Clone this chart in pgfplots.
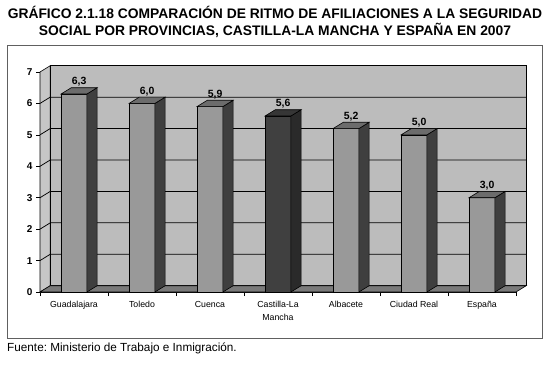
\documentclass[border=0pt]{standalone}
\usepackage{pgfplots}
\pgfplotsset{compat=1.18}
\usepackage{pgfplotstable}
\usepackage{fontspec}
\setmainfont{Liberation Sans}
\frenchspacing
\definecolor{wallc}{HTML}{BCBCBC}
\definecolor{lwallc}{HTML}{C6C6C6}
\definecolor{floorc}{HTML}{7A7A7A}
\definecolor{barF}{HTML}{999999}
\definecolor{barS}{HTML}{3F3F3F}
\definecolor{barT}{HTML}{6C6C6C}
\definecolor{clmF}{HTML}{404040}
\definecolor{clmS}{HTML}{2A2A2A}
\definecolor{clmT}{HTML}{363636}
\definecolor{framec}{HTML}{606060}

\pgfplotstableread{
x v
0 6.3
1 6.0
2 5.9
3 5.6
4 5.2
5 5.0
6 3.0
}\datatable

% 3D bar: #1 x position, #2 value, #3 front, #4 side, #5 top
\newcommand{\tdbar}[5]{%
\addplot[fill=#3, draw=black, line width=0.6pt] table[row sep=\\, x expr=#1+\thisrow{a}, y expr=\thisrow{s}*#2+\thisrow{b}] {a s b\\ -0.19 0 0\\ -0.19 1 0\\ 0.19 1 0\\ 0.19 0 0\\} -- cycle;
\addplot[fill=#4, draw=black, line width=0.6pt] table[row sep=\\, x expr=#1+\thisrow{a}, y expr=\thisrow{s}*#2+\thisrow{b}] {a s b\\ 0.19 0 0\\ 0.19 1 0\\ 0.34 1 0.2\\ 0.34 0 0.2\\} -- cycle;
\addplot[fill=#5, draw=black, line width=0.6pt] table[row sep=\\, x expr=#1+\thisrow{a}, y expr=\thisrow{s}*#2+\thisrow{b}] {a s b\\ -0.19 1 0\\ -0.04 1 0.2\\ 0.34 1 0.2\\ 0.19 1 0\\} -- cycle;
}

\begin{document}
\begin{tikzpicture}[x=1bp,y=1bp]
\path (0,0) rectangle (550,367);
\node[anchor=base, inner sep=0, font=\bfseries\fontsize{13.9}{16}\selectfont] at (275,348.5) {GRÁFICO 2.1.18 COMPARACIÓN DE RITMO DE AFILIACIONES A LA SEGURIDAD};
\node[anchor=base, inner sep=0, font=\bfseries\fontsize{13.9}{16}\selectfont] at (275,331.5) {SOCIAL POR PROVINCIAS, CASTILLA-LA MANCHA Y ESPAÑA EN 2007};
\draw[framec, line width=0.8bp] (7,29) rectangle (542,322);
\node[anchor=base west, inner sep=0, font=\fontsize{11.8}{13}\selectfont] at (7,16) {Fuente: Ministerio de Trabajo e Inmigración.};
\begin{axis}[
  at={(40bp,75bp)}, anchor=south west,
  scale only axis, width=476bp, height=220bp,
  xmin=-0.5, xmax=6.5, ymin=0, ymax=7,
  clip=false,
  axis x line*=bottom, axis y line*=left,
  axis line style={-, black, line width=0.6pt},
  tick align=outside,
  tick style={black, line width=0.6pt},
  ytick={0,1,2,3,4,5,6,7},
  major tick length=4bp,
  xtick={0,1,2,3,4,5,6},
  xticklabels={Guadalajara, Toledo, Cuenca, {Castilla-La\\Mancha}, Albacete, Ciudad Real, España},
  major x tick style={draw=none},
  minor xtick={-0.5,0.5,1.5,2.5,3.5,4.5,5.5,6.5},
  minor tick length=4bp,
  xticklabel style={font=\fontsize{8.8}{13}\selectfont, align=center, anchor=north, yshift=-1.5bp},
  yticklabel style={font=\bfseries\fontsize{10}{11}\selectfont},
  /pgf/number format/assume math mode=true,
]
% left wall
\addplot[fill=lwallc, draw=black, line width=0.6pt] coordinates {(-0.5,0) (-0.5,7) (-0.35,7.2) (-0.35,0.2)} -- cycle;
% back wall
\addplot[fill=wallc, draw=black, line width=0.6pt] coordinates {(-0.35,0.2) (-0.35,7.2) (6.65,7.2) (6.65,0.2)} -- cycle;
% floor
\addplot[fill=floorc, draw=black, line width=0.6pt] coordinates {(-0.5,0) (-0.35,0.2) (6.65,0.2) (6.5,0)} -- cycle;
% gridlines
\pgfplotsinvokeforeach{1,2,3,4,5,6}{
  \addplot[black, line width=0.75pt] coordinates {(-0.5,#1) (-0.35,#1.2) (6.65,#1.2)};
}
% bars
\tdbar{0}{6.3}{barF}{barS}{barT}
\tdbar{1}{6.0}{barF}{barS}{barT}
\tdbar{2}{5.9}{barF}{barS}{barT}
\tdbar{3}{5.6}{clmF}{clmS}{clmT}
\tdbar{4}{5.2}{barF}{barS}{barT}
\tdbar{5}{5.0}{barF}{barS}{barT}
\tdbar{6}{3.0}{barF}{barS}{barT}
% value labels
\addplot[draw=none, point meta=explicit,
  nodes near coords={\pgfmathprintnumber[fixed, fixed zerofill, precision=1, use comma, assume math mode=true]{\pgfplotspointmeta}},
  every node near coord/.append style={font=\bfseries\fontsize{10.5}{12}\selectfont, anchor=south, inner sep=1.2bp}]
  table[x expr=\thisrow{x}+0.075, y expr=\thisrow{v}+0.2, meta=v] {\datatable};
\end{axis}
\end{tikzpicture}
\end{document}
